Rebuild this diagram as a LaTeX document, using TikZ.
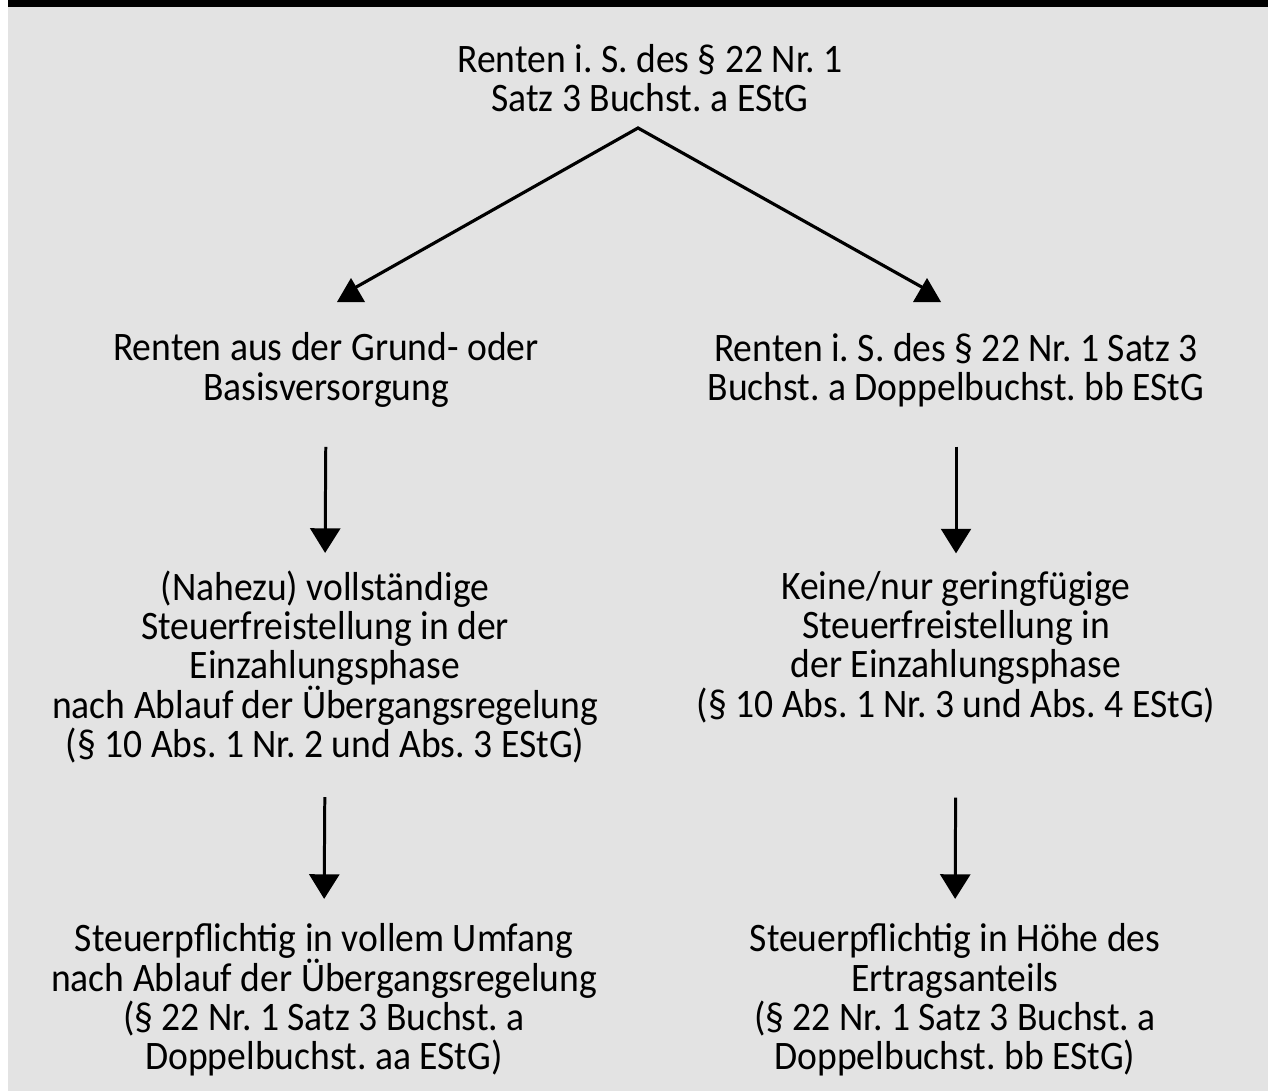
\documentclass[tikz,border=0pt]{standalone}
\usepackage{fontspec}
\setmainfont{Carlito}[FakeStretch=0.93]
\usetikzlibrary{arrows.meta}
\definecolor{bggray}{RGB}{227,227,227}
\frenchspacing
\tikzset{
	txt/.style={align=center, inner sep=0pt, font=\fontsize{11.5}{11.2}\selectfont},
	pfeil/.style={line width=0.85pt, -{Triangle[width=8.5pt,length=7pt]}},
	strich/.style={line width=0.9pt},
}

\begin{document}
\begin{tikzpicture}[x=0.01cm,y=-0.01cm]
			%Config
			\useasboundingbox (0,0) rectangle (1268,1091);
			\fill[bggray] (0,0) rectangle (1268,1091);
			\fill[white] (0,0) rectangle (8,1091);
			\fill[black] (8,0) rectangle (1268,7);
			
			%Oben
			\node[txt] (renten) at (650,78) {Renten i. S. des \S\ 22 Nr. 1\\Satz 3 Buchst. a EStG};
			
			%Zweite Ebene
			\node[txt] (grund) at (326,370) {Renten aus der Grund- oder\\Basisversorgung};
			\node[txt] (bb) at (956,370) {Renten i. S. des \S\ 22 Nr. 1 Satz 3\\Buchst. a Doppelbuchst. bb EStG};
			
			%Dritte Ebene
			\node[txt] (frei) at (325,667) {(Nahezu) vollständige\\Steuerfreistellung in der\\Einzahlungsphase\\nach Ablauf der Übergangsregelung\\(\S\ 10 Abs. 1 Nr. 2 und Abs. 3 EStG)};
			\node[txt] (keine) at (956,647) {Keine/nur geringfügige\\Steuerfreistellung in\\der Einzahlungsphase\\(\S\ 10 Abs. 1 Nr. 3 und Abs. 4 EStG)};
			
			%Unten
			\node[txt] (voll) at (324,1000) {Steuerpflichtig in vollem Umfang\\nach Ablauf der Übergangsregelung\\(\S\ 22 Nr. 1 Satz 3 Buchst. a\\Doppelbuchst. aa EStG)};
			\node[txt] (ertrag) at (955,1000) {Steuerpflichtig in Höhe des\\Ertragsanteils\\(\S\ 22 Nr. 1 Satz 3 Buchst. a\\Doppelbuchst. bb EStG)};
			
			%Verzweigung mit aufrechten Dreiecken
			\coordinate (spitze) at (638,128);
			\coordinate (links) at (351,290);
			\coordinate (rechts) at (927,290);
			\draw[strich, line join=miter] (links) -- (spitze) -- (rechts);
			\fill (links) ++(0,-12) -- ++(-14,24) -- ++(28,0) -- cycle;
			\fill (rechts) ++(0,-12) -- ++(-14,24) -- ++(28,0) -- cycle;
			
			%Senkrechte Pfeile
			\draw[pfeil, shorten <=0.39cm, shorten >=0.17cm] (grund.south) -- (frei.north);
			\draw[pfeil, shorten <=0.39cm, shorten >=0.17cm] (bb.south) -- (keine.north);
			\draw[pfeil, shorten <=0.33cm, shorten >=0.24cm] (frei.south) -- (voll.north);
			\draw[pfeil, shorten <=0.74cm, shorten >=0.24cm] (keine.south) -- (ertrag.north);
\end{tikzpicture}
\end{document}
